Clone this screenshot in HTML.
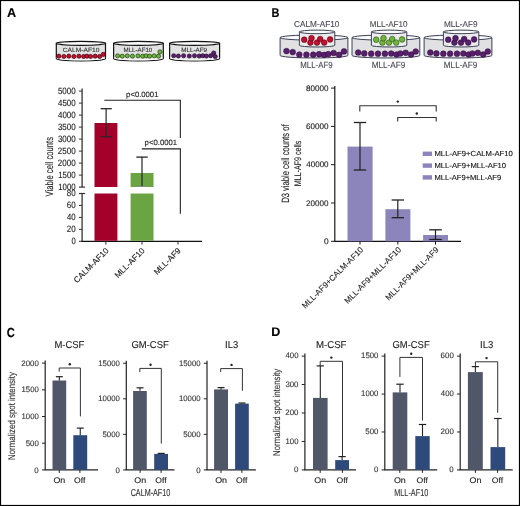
<!DOCTYPE html>
<html><head><meta charset="utf-8"><style>
html,body{margin:0;padding:0;background:#fff;}
svg{display:block;font-family:"Liberation Sans", sans-serif;text-rendering:geometricPrecision;will-change:transform;}
</style></head><body>
<svg width="520" height="506" viewBox="0 0 520 506">
<rect x="0.5" y="0.5" width="519" height="505" fill="#fff" stroke="#000" stroke-width="1.2"/>
<text x="6.88" y="16.90" font-size="12.90" text-anchor="start" fill="#000" font-weight="bold" textLength="9.16" lengthAdjust="spacingAndGlyphs"  stroke="#000" stroke-width="0.12">A</text>
<text x="271.59" y="16.80" font-size="12.75" text-anchor="start" fill="#000" font-weight="bold" textLength="7.93" lengthAdjust="spacingAndGlyphs"  stroke="#000" stroke-width="0.12">B</text>
<text x="6.85" y="336.57" font-size="13.10" text-anchor="start" fill="#000" font-weight="bold" textLength="8.05" lengthAdjust="spacingAndGlyphs"  stroke="#000" stroke-width="0.12">C</text>
<text x="271.39" y="336.30" font-size="12.46" text-anchor="start" fill="#000" font-weight="bold" textLength="9.04" lengthAdjust="spacingAndGlyphs"  stroke="#000" stroke-width="0.12">D</text>
<path d="M56.3,43.35 L56.3,58.6 A24.6,2.3 0 0 0 105.5,58.6 L105.5,43.35 Z" fill="#e2e2e2" stroke="#111" stroke-width="1.2"/>
<path d="M57.099999999999994,57.4 A23.8,2.3 0 0 0 104.7,57.4" fill="none" stroke="#f6f6f6" stroke-width="1.4"/>
<ellipse cx="80.9" cy="43.35" rx="24.6" ry="2.05" fill="#fbfbfb" stroke="#111" stroke-width="1.2"/>
<text x="62.77" y="51.64" font-size="6.06" text-anchor="start" fill="#333" textLength="36.68" lengthAdjust="spacingAndGlyphs"  stroke="#333" stroke-width="0.12">CALM-AF10</text>
<circle cx="58.90" cy="56.15" r="2.05" fill="#c8102e" stroke="#3a0010" stroke-width="0.7"/>
<circle cx="63.90" cy="56.45" r="2.05" fill="#c8102e" stroke="#3a0010" stroke-width="0.7"/>
<circle cx="68.80" cy="56.15" r="2.05" fill="#c8102e" stroke="#3a0010" stroke-width="0.7"/>
<circle cx="73.90" cy="56.45" r="2.05" fill="#c8102e" stroke="#3a0010" stroke-width="0.7"/>
<circle cx="78.90" cy="56.15" r="2.05" fill="#c8102e" stroke="#3a0010" stroke-width="0.7"/>
<circle cx="83.60" cy="56.45" r="2.05" fill="#c8102e" stroke="#3a0010" stroke-width="0.7"/>
<circle cx="86.90" cy="56.15" r="2.05" fill="#c8102e" stroke="#3a0010" stroke-width="0.7"/>
<circle cx="90.60" cy="56.45" r="2.05" fill="#c8102e" stroke="#3a0010" stroke-width="0.7"/>
<circle cx="95.20" cy="56.15" r="2.05" fill="#c8102e" stroke="#3a0010" stroke-width="0.7"/>
<circle cx="99.60" cy="56.45" r="2.05" fill="#c8102e" stroke="#3a0010" stroke-width="0.7"/>
<circle cx="103.30" cy="54.40" r="2.1" fill="#c8102e" stroke="#3a0010" stroke-width="0.7"/>
<path d="M113.6,43.35 L113.6,58.6 A24.85000000000001,2.3 0 0 0 163.3,58.6 L163.3,43.35 Z" fill="#e2e2e2" stroke="#111" stroke-width="1.2"/>
<path d="M114.39999999999999,57.4 A24.050000000000008,2.3 0 0 0 162.5,57.4" fill="none" stroke="#f6f6f6" stroke-width="1.4"/>
<ellipse cx="138.45" cy="43.35" rx="24.85000000000001" ry="2.05" fill="#fbfbfb" stroke="#111" stroke-width="1.2"/>
<text x="123.51" y="51.64" font-size="6.06" text-anchor="start" fill="#333" textLength="28.80" lengthAdjust="spacingAndGlyphs"  stroke="#333" stroke-width="0.12">MLL-AF10</text>
<circle cx="117.60" cy="55.85" r="2.05" fill="#6cb83e" stroke="#1f3a0a" stroke-width="0.7"/>
<circle cx="122.30" cy="56.15" r="2.05" fill="#6cb83e" stroke="#1f3a0a" stroke-width="0.7"/>
<circle cx="127.30" cy="55.85" r="2.05" fill="#6cb83e" stroke="#1f3a0a" stroke-width="0.7"/>
<circle cx="132.50" cy="56.15" r="2.05" fill="#6cb83e" stroke="#1f3a0a" stroke-width="0.7"/>
<circle cx="138.00" cy="55.85" r="2.05" fill="#6cb83e" stroke="#1f3a0a" stroke-width="0.7"/>
<circle cx="142.60" cy="56.15" r="2.05" fill="#6cb83e" stroke="#1f3a0a" stroke-width="0.7"/>
<circle cx="146.10" cy="55.85" r="2.05" fill="#6cb83e" stroke="#1f3a0a" stroke-width="0.7"/>
<circle cx="149.60" cy="56.15" r="2.05" fill="#6cb83e" stroke="#1f3a0a" stroke-width="0.7"/>
<circle cx="154.20" cy="55.85" r="2.05" fill="#6cb83e" stroke="#1f3a0a" stroke-width="0.7"/>
<circle cx="158.50" cy="56.15" r="2.05" fill="#6cb83e" stroke="#1f3a0a" stroke-width="0.7"/>
<circle cx="159.90" cy="51.90" r="2.1" fill="#6cb83e" stroke="#1f3a0a" stroke-width="0.7"/>
<path d="M169.6,43.35 L169.6,58.6 A25.0,2.3 0 0 0 219.6,58.6 L219.6,43.35 Z" fill="#e2e2e2" stroke="#111" stroke-width="1.2"/>
<path d="M170.4,57.4 A24.2,2.3 0 0 0 218.79999999999998,57.4" fill="none" stroke="#f6f6f6" stroke-width="1.4"/>
<ellipse cx="194.6" cy="43.35" rx="25.0" ry="2.05" fill="#fbfbfb" stroke="#111" stroke-width="1.2"/>
<text x="181.20" y="51.64" font-size="6.06" text-anchor="start" fill="#333" textLength="25.90" lengthAdjust="spacingAndGlyphs"  stroke="#333" stroke-width="0.12">MLL-AF9</text>
<circle cx="173.70" cy="55.75" r="2.05" fill="#5e1f72" stroke="#1e0426" stroke-width="0.7"/>
<circle cx="178.40" cy="56.05" r="2.05" fill="#5e1f72" stroke="#1e0426" stroke-width="0.7"/>
<circle cx="183.60" cy="55.75" r="2.05" fill="#5e1f72" stroke="#1e0426" stroke-width="0.7"/>
<circle cx="189.30" cy="56.05" r="2.05" fill="#5e1f72" stroke="#1e0426" stroke-width="0.7"/>
<circle cx="194.50" cy="55.75" r="2.05" fill="#5e1f72" stroke="#1e0426" stroke-width="0.7"/>
<circle cx="199.20" cy="56.05" r="2.05" fill="#5e1f72" stroke="#1e0426" stroke-width="0.7"/>
<circle cx="202.80" cy="55.75" r="2.05" fill="#5e1f72" stroke="#1e0426" stroke-width="0.7"/>
<circle cx="206.40" cy="56.05" r="2.05" fill="#5e1f72" stroke="#1e0426" stroke-width="0.7"/>
<circle cx="210.60" cy="55.75" r="2.05" fill="#5e1f72" stroke="#1e0426" stroke-width="0.7"/>
<circle cx="213.70" cy="53.00" r="2.1" fill="#5e1f72" stroke="#1e0426" stroke-width="0.7"/>
<circle cx="215.20" cy="56.60" r="2.1" fill="#5e1f72" stroke="#1e0426" stroke-width="0.7"/>
<line x1="82.10" y1="88.50" x2="82.10" y2="187.10" stroke="#333" stroke-width="1.3" />
<line x1="82.10" y1="193.50" x2="82.10" y2="241.30" stroke="#333" stroke-width="1.3" />
<line x1="78.90" y1="187.10" x2="85.10" y2="187.10" stroke="#333" stroke-width="1.2" />
<line x1="78.90" y1="193.50" x2="85.10" y2="193.50" stroke="#333" stroke-width="1.2" />
<line x1="78.90" y1="175.10" x2="82.10" y2="175.10" stroke="#333" stroke-width="1.0" />
<text x="58.21" y="177.71" font-size="9.15" text-anchor="start" fill="#222" textLength="17.46" lengthAdjust="spacingAndGlyphs"  stroke="#222" stroke-width="0.12">1500</text>
<line x1="78.90" y1="163.10" x2="82.10" y2="163.10" stroke="#333" stroke-width="1.0" />
<text x="57.80" y="165.71" font-size="9.15" text-anchor="start" fill="#222" textLength="17.88" lengthAdjust="spacingAndGlyphs"  stroke="#222" stroke-width="0.12">2000</text>
<line x1="78.90" y1="151.10" x2="82.10" y2="151.10" stroke="#333" stroke-width="1.0" />
<text x="57.80" y="153.71" font-size="9.15" text-anchor="start" fill="#222" textLength="17.88" lengthAdjust="spacingAndGlyphs"  stroke="#222" stroke-width="0.12">2500</text>
<line x1="78.90" y1="139.10" x2="82.10" y2="139.10" stroke="#333" stroke-width="1.0" />
<text x="57.88" y="141.71" font-size="9.15" text-anchor="start" fill="#222" textLength="17.80" lengthAdjust="spacingAndGlyphs"  stroke="#222" stroke-width="0.12">3000</text>
<line x1="78.90" y1="127.10" x2="82.10" y2="127.10" stroke="#333" stroke-width="1.0" />
<text x="57.88" y="129.71" font-size="9.15" text-anchor="start" fill="#222" textLength="17.80" lengthAdjust="spacingAndGlyphs"  stroke="#222" stroke-width="0.12">3500</text>
<line x1="78.90" y1="115.10" x2="82.10" y2="115.10" stroke="#333" stroke-width="1.0" />
<text x="58.04" y="117.71" font-size="9.15" text-anchor="start" fill="#222" textLength="17.63" lengthAdjust="spacingAndGlyphs"  stroke="#222" stroke-width="0.12">4000</text>
<line x1="78.90" y1="103.10" x2="82.10" y2="103.10" stroke="#333" stroke-width="1.0" />
<text x="58.04" y="105.71" font-size="9.15" text-anchor="start" fill="#222" textLength="17.63" lengthAdjust="spacingAndGlyphs"  stroke="#222" stroke-width="0.12">4500</text>
<line x1="78.90" y1="91.10" x2="82.10" y2="91.10" stroke="#333" stroke-width="1.0" />
<text x="57.88" y="93.71" font-size="9.15" text-anchor="start" fill="#222" textLength="17.80" lengthAdjust="spacingAndGlyphs"  stroke="#222" stroke-width="0.12">5000</text>
<text x="58.21" y="189.71" font-size="9.15" text-anchor="start" fill="#222" textLength="17.46" lengthAdjust="spacingAndGlyphs"  stroke="#222" stroke-width="0.12">1000</text>
<line x1="78.90" y1="241.30" x2="82.10" y2="241.30" stroke="#333" stroke-width="1.0" />
<text x="71.39" y="243.91" font-size="9.15" text-anchor="start" fill="#222" textLength="4.29" lengthAdjust="spacingAndGlyphs"  stroke="#222" stroke-width="0.12">0</text>
<line x1="78.90" y1="229.35" x2="82.10" y2="229.35" stroke="#333" stroke-width="1.0" />
<text x="66.80" y="231.96" font-size="9.15" text-anchor="start" fill="#222" textLength="8.90" lengthAdjust="spacingAndGlyphs"  stroke="#222" stroke-width="0.12">20</text>
<line x1="78.90" y1="217.40" x2="82.10" y2="217.40" stroke="#333" stroke-width="1.0" />
<text x="67.04" y="220.01" font-size="9.15" text-anchor="start" fill="#222" textLength="8.65" lengthAdjust="spacingAndGlyphs"  stroke="#222" stroke-width="0.12">40</text>
<line x1="78.90" y1="205.45" x2="82.10" y2="205.45" stroke="#333" stroke-width="1.0" />
<text x="66.80" y="208.06" font-size="9.15" text-anchor="start" fill="#222" textLength="8.90" lengthAdjust="spacingAndGlyphs"  stroke="#222" stroke-width="0.12">60</text>
<text x="66.84" y="196.11" font-size="9.15" text-anchor="start" fill="#222" textLength="8.86" lengthAdjust="spacingAndGlyphs"  stroke="#222" stroke-width="0.12">80</text>
<text x="52.90" y="196.44" font-size="10.76" text-anchor="start" fill="#222" textLength="59.50" lengthAdjust="spacingAndGlyphs" transform="rotate(-90 52.90 196.44)"  stroke="#222" stroke-width="0.12">Viable cell counts</text>
<line x1="81.50" y1="241.40" x2="202.00" y2="241.40" stroke="#111" stroke-width="1.4" />
<line x1="105.90" y1="241.40" x2="105.90" y2="244.60" stroke="#333" stroke-width="1.0" />
<line x1="142.00" y1="241.40" x2="142.00" y2="244.60" stroke="#333" stroke-width="1.0" />
<line x1="178.00" y1="241.40" x2="178.00" y2="244.60" stroke="#333" stroke-width="1.0" />
<rect x="94.50" y="123.00" width="22.90" height="64.00" fill="#a3002a"/>
<rect x="94.50" y="193.50" width="22.90" height="47.30" fill="#a3002a"/>
<rect x="130.60" y="173.00" width="22.90" height="14.00" fill="#6ba543"/>
<rect x="130.60" y="193.50" width="22.90" height="47.30" fill="#6ba543"/>
<line x1="106.10" y1="108.70" x2="106.10" y2="136.70" stroke="#262626" stroke-width="1.2" />
<line x1="100.60" y1="108.70" x2="111.80" y2="108.70" stroke="#262626" stroke-width="1.3" />
<line x1="100.60" y1="136.70" x2="111.80" y2="136.70" stroke="#262626" stroke-width="1.3" />
<line x1="142.00" y1="157.10" x2="142.00" y2="186.30" stroke="#262626" stroke-width="1.2" />
<line x1="136.30" y1="157.10" x2="147.70" y2="157.10" stroke="#262626" stroke-width="1.3" />
<line x1="136.30" y1="186.40" x2="147.70" y2="186.40" stroke="#8a8a8a" stroke-width="0.9" />
<line x1="104.30" y1="100.30" x2="180.90" y2="100.30" stroke="#222" stroke-width="1.1" />
<line x1="180.35" y1="100.30" x2="180.35" y2="138.10" stroke="#222" stroke-width="1.1" />
<text x="126.10" y="96.60" font-size="7.71" text-anchor="start" fill="#222" textLength="32.34" lengthAdjust="spacingAndGlyphs"  stroke="#222" stroke-width="0.12">p&lt;0.0001</text>
<line x1="141.80" y1="148.90" x2="180.90" y2="148.90" stroke="#222" stroke-width="1.1" />
<line x1="180.35" y1="148.90" x2="180.35" y2="213.80" stroke="#222" stroke-width="1.1" />
<text x="144.60" y="145.40" font-size="7.71" text-anchor="start" fill="#222" textLength="32.54" lengthAdjust="spacingAndGlyphs"  stroke="#222" stroke-width="0.12">p&lt;0.0001</text>
<text x="109.30" y="251.20" font-size="8.30" text-anchor="end" fill="#222" transform="rotate(-45 109.30 251.20)"  stroke="#222" stroke-width="0.12">CALM-AF10</text>
<text x="145.30" y="251.20" font-size="8.30" text-anchor="end" fill="#222" transform="rotate(-45 145.30 251.20)"  stroke="#222" stroke-width="0.12">MLL-AF10</text>
<text x="181.30" y="251.20" font-size="8.30" text-anchor="end" fill="#222" transform="rotate(-45 181.30 251.20)"  stroke="#222" stroke-width="0.12">MLL-AF9</text>
<path d="M280.1,37.6 L280.1,55.4 A33.89999999999998,2.6 0 0 0 347.9,55.4 L347.9,37.6 Z" fill="#e1e1e4" stroke="#3b4056" stroke-width="1.0"/>
<ellipse cx="314.0" cy="37.6" rx="33.89999999999998" ry="2.6" fill="#fbfbfb" stroke="#3b4056" stroke-width="1.0"/>
<circle cx="286.50" cy="51.10" r="2.85" fill="#5a1e6e" stroke="#2a0d33" stroke-width="0.55"/>
<circle cx="292.70" cy="52.10" r="2.85" fill="#5a1e6e" stroke="#2a0d33" stroke-width="0.55"/>
<circle cx="299.30" cy="54.60" r="2.85" fill="#5a1e6e" stroke="#2a0d33" stroke-width="0.55"/>
<circle cx="306.40" cy="54.70" r="2.85" fill="#5a1e6e" stroke="#2a0d33" stroke-width="0.55"/>
<circle cx="313.20" cy="54.70" r="2.85" fill="#5a1e6e" stroke="#2a0d33" stroke-width="0.55"/>
<circle cx="319.10" cy="54.20" r="2.85" fill="#5a1e6e" stroke="#2a0d33" stroke-width="0.55"/>
<circle cx="324.20" cy="54.90" r="2.85" fill="#5a1e6e" stroke="#2a0d33" stroke-width="0.55"/>
<circle cx="328.30" cy="54.10" r="2.85" fill="#5a1e6e" stroke="#2a0d33" stroke-width="0.55"/>
<circle cx="333.70" cy="53.00" r="2.85" fill="#5a1e6e" stroke="#2a0d33" stroke-width="0.55"/>
<circle cx="339.20" cy="54.80" r="2.85" fill="#5a1e6e" stroke="#2a0d33" stroke-width="0.55"/>
<circle cx="344.00" cy="51.40" r="2.85" fill="#5a1e6e" stroke="#2a0d33" stroke-width="0.55"/>
<path d="M299.4,31.9 L299.4,45.3 A17.700000000000017,1.7 0 0 0 334.8,45.3 L334.8,31.9 Z" fill="#ececee" stroke="#3b4056" stroke-width="1.0"/>
<ellipse cx="317.1" cy="31.9" rx="17.700000000000017" ry="1.8" fill="#fdfdfd" stroke="#3b4056" stroke-width="1.0"/>
<circle cx="304.20" cy="39.70" r="2.85" fill="#c4102f" stroke="#4a0414" stroke-width="0.55"/>
<circle cx="310.40" cy="42.60" r="2.85" fill="#c4102f" stroke="#4a0414" stroke-width="0.55"/>
<circle cx="311.50" cy="38.20" r="2.85" fill="#c4102f" stroke="#4a0414" stroke-width="0.55"/>
<circle cx="317.00" cy="42.60" r="2.85" fill="#c4102f" stroke="#4a0414" stroke-width="0.55"/>
<circle cx="320.20" cy="39.00" r="2.85" fill="#c4102f" stroke="#4a0414" stroke-width="0.55"/>
<circle cx="324.20" cy="42.60" r="2.85" fill="#c4102f" stroke="#4a0414" stroke-width="0.55"/>
<circle cx="330.10" cy="39.40" r="2.85" fill="#c4102f" stroke="#4a0414" stroke-width="0.55"/>
<text x="294.04" y="26.51" font-size="8.59" text-anchor="start" fill="#4a4a55" textLength="45.31" lengthAdjust="spacingAndGlyphs"  stroke="#4a4a55" stroke-width="0.12">CALM-AF10</text>
<text x="300.32" y="67.91" font-size="9.01" text-anchor="start" fill="#4a4a55" textLength="32.35" lengthAdjust="spacingAndGlyphs"  stroke="#4a4a55" stroke-width="0.12">MLL-AF9</text>
<path d="M352.0,37.6 L352.0,55.4 A33.900000000000006,2.6 0 0 0 419.8,55.4 L419.8,37.6 Z" fill="#e1e1e4" stroke="#3b4056" stroke-width="1.0"/>
<ellipse cx="385.9" cy="37.6" rx="33.900000000000006" ry="2.6" fill="#fbfbfb" stroke="#3b4056" stroke-width="1.0"/>
<circle cx="358.20" cy="52.50" r="2.85" fill="#5a1e6e" stroke="#2a0d33" stroke-width="0.55"/>
<circle cx="364.30" cy="53.40" r="2.85" fill="#5a1e6e" stroke="#2a0d33" stroke-width="0.55"/>
<circle cx="371.20" cy="53.70" r="2.85" fill="#5a1e6e" stroke="#2a0d33" stroke-width="0.55"/>
<circle cx="378.00" cy="53.70" r="2.85" fill="#5a1e6e" stroke="#2a0d33" stroke-width="0.55"/>
<circle cx="384.90" cy="53.70" r="2.85" fill="#5a1e6e" stroke="#2a0d33" stroke-width="0.55"/>
<circle cx="391.20" cy="53.50" r="2.85" fill="#5a1e6e" stroke="#2a0d33" stroke-width="0.55"/>
<circle cx="396.50" cy="54.50" r="2.85" fill="#5a1e6e" stroke="#2a0d33" stroke-width="0.55"/>
<circle cx="400.30" cy="53.50" r="2.85" fill="#5a1e6e" stroke="#2a0d33" stroke-width="0.55"/>
<circle cx="405.70" cy="52.80" r="2.85" fill="#5a1e6e" stroke="#2a0d33" stroke-width="0.55"/>
<circle cx="411.10" cy="54.50" r="2.85" fill="#5a1e6e" stroke="#2a0d33" stroke-width="0.55"/>
<circle cx="415.70" cy="51.50" r="2.85" fill="#5a1e6e" stroke="#2a0d33" stroke-width="0.55"/>
<path d="M371.4,31.9 L371.4,45.3 A17.700000000000017,1.7 0 0 0 406.8,45.3 L406.8,31.9 Z" fill="#ececee" stroke="#3b4056" stroke-width="1.0"/>
<ellipse cx="389.1" cy="31.9" rx="17.700000000000017" ry="1.8" fill="#fdfdfd" stroke="#3b4056" stroke-width="1.0"/>
<circle cx="376.20" cy="39.70" r="2.85" fill="#6fb43f" stroke="#25450c" stroke-width="0.55"/>
<circle cx="382.40" cy="42.60" r="2.85" fill="#6fb43f" stroke="#25450c" stroke-width="0.55"/>
<circle cx="383.50" cy="38.20" r="2.85" fill="#6fb43f" stroke="#25450c" stroke-width="0.55"/>
<circle cx="389.00" cy="42.60" r="2.85" fill="#6fb43f" stroke="#25450c" stroke-width="0.55"/>
<circle cx="392.20" cy="39.00" r="2.85" fill="#6fb43f" stroke="#25450c" stroke-width="0.55"/>
<circle cx="396.20" cy="42.60" r="2.85" fill="#6fb43f" stroke="#25450c" stroke-width="0.55"/>
<circle cx="402.10" cy="39.40" r="2.85" fill="#6fb43f" stroke="#25450c" stroke-width="0.55"/>
<text x="369.75" y="26.52" font-size="8.45" text-anchor="start" fill="#4a4a55" textLength="37.82" lengthAdjust="spacingAndGlyphs"  stroke="#4a4a55" stroke-width="0.12">MLL-AF10</text>
<text x="371.64" y="67.91" font-size="9.01" text-anchor="start" fill="#4a4a55" textLength="33.75" lengthAdjust="spacingAndGlyphs"  stroke="#4a4a55" stroke-width="0.12">MLL-AF9</text>
<path d="M424.1,37.6 L424.1,55.4 A33.89999999999998,2.6 0 0 0 491.9,55.4 L491.9,37.6 Z" fill="#e1e1e4" stroke="#3b4056" stroke-width="1.0"/>
<ellipse cx="458.0" cy="37.6" rx="33.89999999999998" ry="2.6" fill="#fbfbfb" stroke="#3b4056" stroke-width="1.0"/>
<circle cx="430.30" cy="52.50" r="2.85" fill="#5a1e6e" stroke="#2a0d33" stroke-width="0.55"/>
<circle cx="436.40" cy="53.40" r="2.85" fill="#5a1e6e" stroke="#2a0d33" stroke-width="0.55"/>
<circle cx="443.30" cy="53.70" r="2.85" fill="#5a1e6e" stroke="#2a0d33" stroke-width="0.55"/>
<circle cx="450.10" cy="53.70" r="2.85" fill="#5a1e6e" stroke="#2a0d33" stroke-width="0.55"/>
<circle cx="457.00" cy="53.70" r="2.85" fill="#5a1e6e" stroke="#2a0d33" stroke-width="0.55"/>
<circle cx="463.30" cy="53.50" r="2.85" fill="#5a1e6e" stroke="#2a0d33" stroke-width="0.55"/>
<circle cx="468.60" cy="54.50" r="2.85" fill="#5a1e6e" stroke="#2a0d33" stroke-width="0.55"/>
<circle cx="472.40" cy="53.50" r="2.85" fill="#5a1e6e" stroke="#2a0d33" stroke-width="0.55"/>
<circle cx="477.80" cy="52.80" r="2.85" fill="#5a1e6e" stroke="#2a0d33" stroke-width="0.55"/>
<circle cx="483.20" cy="54.50" r="2.85" fill="#5a1e6e" stroke="#2a0d33" stroke-width="0.55"/>
<circle cx="487.80" cy="51.50" r="2.85" fill="#5a1e6e" stroke="#2a0d33" stroke-width="0.55"/>
<path d="M443.4,31.9 L443.4,45.3 A17.700000000000017,1.7 0 0 0 478.8,45.3 L478.8,31.9 Z" fill="#ececee" stroke="#3b4056" stroke-width="1.0"/>
<ellipse cx="461.1" cy="31.9" rx="17.700000000000017" ry="1.8" fill="#fdfdfd" stroke="#3b4056" stroke-width="1.0"/>
<circle cx="448.20" cy="39.70" r="2.85" fill="#5a1e6e" stroke="#2a0d33" stroke-width="0.55"/>
<circle cx="454.40" cy="42.60" r="2.85" fill="#5a1e6e" stroke="#2a0d33" stroke-width="0.55"/>
<circle cx="455.50" cy="38.20" r="2.85" fill="#5a1e6e" stroke="#2a0d33" stroke-width="0.55"/>
<circle cx="461.00" cy="42.60" r="2.85" fill="#5a1e6e" stroke="#2a0d33" stroke-width="0.55"/>
<circle cx="464.20" cy="39.00" r="2.85" fill="#5a1e6e" stroke="#2a0d33" stroke-width="0.55"/>
<circle cx="468.20" cy="42.60" r="2.85" fill="#5a1e6e" stroke="#2a0d33" stroke-width="0.55"/>
<circle cx="474.10" cy="39.40" r="2.85" fill="#5a1e6e" stroke="#2a0d33" stroke-width="0.55"/>
<text x="443.95" y="26.52" font-size="8.45" text-anchor="start" fill="#4a4a55" textLength="33.54" lengthAdjust="spacingAndGlyphs"  stroke="#4a4a55" stroke-width="0.12">MLL-AF9</text>
<text x="443.85" y="67.91" font-size="9.01" text-anchor="start" fill="#4a4a55" textLength="33.44" lengthAdjust="spacingAndGlyphs"  stroke="#4a4a55" stroke-width="0.12">MLL-AF9</text>
<line x1="334.80" y1="86.10" x2="334.80" y2="241.30" stroke="#1a1a1a" stroke-width="1.2" />
<line x1="331.00" y1="241.30" x2="334.80" y2="241.30" stroke="#1a1a1a" stroke-width="1.0" />
<text x="323.90" y="243.92" font-size="8.03" text-anchor="start" fill="#222" textLength="4.70" lengthAdjust="spacingAndGlyphs"  stroke="#222" stroke-width="0.12">0</text>
<line x1="331.00" y1="203.00" x2="334.80" y2="203.00" stroke="#1a1a1a" stroke-width="1.0" />
<text x="305.99" y="205.62" font-size="8.03" text-anchor="start" fill="#222" textLength="22.60" lengthAdjust="spacingAndGlyphs"  stroke="#222" stroke-width="0.12">20000</text>
<line x1="331.00" y1="164.70" x2="334.80" y2="164.70" stroke="#1a1a1a" stroke-width="1.0" />
<text x="306.24" y="167.32" font-size="8.03" text-anchor="start" fill="#222" textLength="22.35" lengthAdjust="spacingAndGlyphs"  stroke="#222" stroke-width="0.12">40000</text>
<line x1="331.00" y1="126.40" x2="334.80" y2="126.40" stroke="#1a1a1a" stroke-width="1.0" />
<text x="305.99" y="129.02" font-size="8.03" text-anchor="start" fill="#222" textLength="22.60" lengthAdjust="spacingAndGlyphs"  stroke="#222" stroke-width="0.12">60000</text>
<line x1="331.00" y1="88.10" x2="334.80" y2="88.10" stroke="#1a1a1a" stroke-width="1.0" />
<text x="306.03" y="90.72" font-size="8.03" text-anchor="start" fill="#222" textLength="22.56" lengthAdjust="spacingAndGlyphs"  stroke="#222" stroke-width="0.12">80000</text>
<line x1="334.20" y1="241.30" x2="461.00" y2="241.30" stroke="#111" stroke-width="1.3" />
<rect x="347.50" y="146.60" width="25.10" height="94.70" fill="#8b85bc"/>
<rect x="385.40" y="209.20" width="25.00" height="32.10" fill="#8b85bc"/>
<rect x="423.10" y="235.00" width="24.90" height="6.30" fill="#8b85bc"/>
<line x1="360.00" y1="122.50" x2="360.00" y2="170.00" stroke="#222" stroke-width="1.2" />
<line x1="353.80" y1="122.50" x2="366.20" y2="122.50" stroke="#222" stroke-width="1.3" />
<line x1="353.80" y1="170.00" x2="366.20" y2="170.00" stroke="#222" stroke-width="1.3" />
<line x1="397.80" y1="200.00" x2="397.80" y2="217.70" stroke="#222" stroke-width="1.2" />
<line x1="391.60" y1="200.00" x2="404.00" y2="200.00" stroke="#222" stroke-width="1.3" />
<line x1="391.60" y1="217.70" x2="404.00" y2="217.70" stroke="#222" stroke-width="1.3" />
<line x1="435.50" y1="229.80" x2="435.50" y2="239.50" stroke="#222" stroke-width="1.2" />
<line x1="429.20" y1="229.80" x2="441.80" y2="229.80" stroke="#222" stroke-width="1.3" />
<line x1="429.20" y1="239.50" x2="441.80" y2="239.50" stroke="#222" stroke-width="1.3" />
<line x1="360.00" y1="241.30" x2="360.00" y2="244.50" stroke="#111" stroke-width="1.0" />
<line x1="397.80" y1="241.30" x2="397.80" y2="244.50" stroke="#111" stroke-width="1.0" />
<line x1="435.50" y1="241.30" x2="435.50" y2="244.50" stroke="#111" stroke-width="1.0" />
<polyline points="359.8,111.4 359.8,105.7 436.2,105.7 436.2,111.4" fill="none" stroke="#333" stroke-width="1.1"/>
<polyline points="397.7,121.5 397.7,117.5 436.2,117.5 436.2,121.5" fill="none" stroke="#333" stroke-width="1.1"/>
<circle cx="397.80" cy="101.60" r="1.2" fill="#222" stroke="none" stroke-width="0"/>
<circle cx="416.80" cy="113.50" r="1.2" fill="#222" stroke="none" stroke-width="0"/>
<rect x="422.70" y="151.60" width="9.30" height="4.40" fill="#8b85bc"/>
<text x="434.48" y="155.93" font-size="7.32" text-anchor="start" fill="#111" textLength="78.41" lengthAdjust="spacingAndGlyphs"  stroke="#111" stroke-width="0.12">MLL-AF9+CALM-AF10</text>
<rect x="422.70" y="163.40" width="9.30" height="4.40" fill="#8b85bc"/>
<text x="434.49" y="167.73" font-size="7.32" text-anchor="start" fill="#111" textLength="71.58" lengthAdjust="spacingAndGlyphs"  stroke="#111" stroke-width="0.12">MLL-AF9+MLL-AF10</text>
<rect x="422.70" y="175.20" width="9.30" height="4.40" fill="#8b85bc"/>
<text x="434.49" y="179.53" font-size="7.32" text-anchor="start" fill="#111" textLength="66.74" lengthAdjust="spacingAndGlyphs"  stroke="#111" stroke-width="0.12">MLL-AF9+MLL-AF9</text>
<text x="289.00" y="202.81" font-size="10.62" text-anchor="start" fill="#222" textLength="78.40" lengthAdjust="spacingAndGlyphs" transform="rotate(-90 289.00 202.81)"  stroke="#222" stroke-width="0.12">D3 viable cell counts of</text>
<text x="300.60" y="186.17" font-size="9.52" text-anchor="start" fill="#222" textLength="45.42" lengthAdjust="spacingAndGlyphs" transform="rotate(-90 300.60 186.17)"  stroke="#222" stroke-width="0.12">MLL-AF9 cells</text>
<text x="363.80" y="250.40" font-size="8.15" text-anchor="end" fill="#222" transform="rotate(-45 363.80 250.40)"  stroke="#222" stroke-width="0.12">MLL-AF9+CALM-AF10</text>
<text x="401.60" y="250.40" font-size="8.15" text-anchor="end" fill="#222" transform="rotate(-45 401.60 250.40)"  stroke="#222" stroke-width="0.12">MLL-AF9+MLL-AF10</text>
<text x="439.30" y="250.40" font-size="8.15" text-anchor="end" fill="#222" transform="rotate(-45 439.30 250.40)"  stroke="#222" stroke-width="0.12">MLL-AF9+MLL-AF9</text>
<line x1="45.20" y1="360.50" x2="45.20" y2="469.90" stroke="#222" stroke-width="1.2" />
<line x1="42.00" y1="469.90" x2="45.20" y2="469.90" stroke="#222" stroke-width="1.0" />
<text x="34.38" y="472.52" font-size="7.89" text-anchor="start" fill="#333" textLength="4.40" lengthAdjust="spacingAndGlyphs"  stroke="#333" stroke-width="0.12">0</text>
<line x1="42.00" y1="443.20" x2="45.20" y2="443.20" stroke="#222" stroke-width="1.0" />
<text x="25.69" y="445.82" font-size="7.89" text-anchor="start" fill="#333" textLength="13.12" lengthAdjust="spacingAndGlyphs"  stroke="#333" stroke-width="0.12">500</text>
<line x1="42.00" y1="416.50" x2="45.20" y2="416.50" stroke="#222" stroke-width="1.0" />
<text x="21.52" y="419.12" font-size="7.89" text-anchor="start" fill="#333" textLength="17.25" lengthAdjust="spacingAndGlyphs"  stroke="#333" stroke-width="0.12">1000</text>
<line x1="42.00" y1="389.80" x2="45.20" y2="389.80" stroke="#222" stroke-width="1.0" />
<text x="21.52" y="392.42" font-size="7.89" text-anchor="start" fill="#333" textLength="17.25" lengthAdjust="spacingAndGlyphs"  stroke="#333" stroke-width="0.12">1500</text>
<line x1="42.00" y1="363.10" x2="45.20" y2="363.10" stroke="#222" stroke-width="1.0" />
<text x="21.26" y="365.72" font-size="7.89" text-anchor="start" fill="#333" textLength="17.52" lengthAdjust="spacingAndGlyphs"  stroke="#333" stroke-width="0.12">2000</text>
<line x1="44.60" y1="469.90" x2="98.00" y2="469.90" stroke="#222" stroke-width="1.3" />
<rect x="52.50" y="380.50" width="13.70" height="89.40" fill="#505768"/>
<rect x="73.30" y="435.20" width="13.90" height="34.70" fill="#2e4a7b"/>
<line x1="59.35" y1="376.70" x2="59.35" y2="380.50" stroke="#222" stroke-width="1.1" />
<line x1="55.85" y1="376.70" x2="62.85" y2="376.70" stroke="#222" stroke-width="1.2" />
<line x1="80.25" y1="428.10" x2="80.25" y2="435.20" stroke="#222" stroke-width="1.1" />
<line x1="76.75" y1="428.10" x2="83.75" y2="428.10" stroke="#222" stroke-width="1.2" />
<polyline points="59.2,371.6 59.2,368.0 80.4,368.0 80.4,416.4" fill="none" stroke="#333" stroke-width="1.0"/>
<circle cx="69.80" cy="364.30" r="1.2" fill="#222" stroke="none" stroke-width="0"/>
<text x="54.44" y="347.60" font-size="10.00" text-anchor="start" fill="#222" textLength="29.95" lengthAdjust="spacingAndGlyphs"  stroke="#222" stroke-width="0.12">M-CSF</text>
<line x1="59.30" y1="469.90" x2="59.30" y2="472.90" stroke="#222" stroke-width="1.0" />
<text x="53.45" y="482.82" font-size="8.31" text-anchor="start" fill="#222" textLength="11.87" lengthAdjust="spacingAndGlyphs"  stroke="#222" stroke-width="0.12">On</text>
<line x1="79.90" y1="469.90" x2="79.90" y2="472.90" stroke="#222" stroke-width="1.0" />
<text x="74.01" y="482.82" font-size="8.03" text-anchor="start" fill="#222" textLength="11.35" lengthAdjust="spacingAndGlyphs"  stroke="#222" stroke-width="0.12">Off</text>
<line x1="126.30" y1="360.65" x2="126.30" y2="469.90" stroke="#222" stroke-width="1.2" />
<line x1="123.10" y1="469.90" x2="126.30" y2="469.90" stroke="#222" stroke-width="1.0" />
<text x="115.48" y="472.52" font-size="7.89" text-anchor="start" fill="#333" textLength="4.40" lengthAdjust="spacingAndGlyphs"  stroke="#333" stroke-width="0.12">0</text>
<line x1="123.10" y1="434.35" x2="126.30" y2="434.35" stroke="#222" stroke-width="1.0" />
<text x="102.44" y="436.97" font-size="7.89" text-anchor="start" fill="#333" textLength="17.44" lengthAdjust="spacingAndGlyphs"  stroke="#333" stroke-width="0.12">5000</text>
<line x1="123.10" y1="398.80" x2="126.30" y2="398.80" stroke="#222" stroke-width="1.0" />
<text x="98.27" y="401.42" font-size="7.89" text-anchor="start" fill="#333" textLength="21.61" lengthAdjust="spacingAndGlyphs"  stroke="#333" stroke-width="0.12">10000</text>
<line x1="123.10" y1="363.25" x2="126.30" y2="363.25" stroke="#222" stroke-width="1.0" />
<text x="98.27" y="365.87" font-size="7.89" text-anchor="start" fill="#333" textLength="21.61" lengthAdjust="spacingAndGlyphs"  stroke="#333" stroke-width="0.12">15000</text>
<line x1="125.70" y1="469.90" x2="174.50" y2="469.90" stroke="#222" stroke-width="1.3" />
<rect x="133.10" y="391.00" width="13.70" height="78.90" fill="#505768"/>
<rect x="154.20" y="453.90" width="13.80" height="16.00" fill="#2e4a7b"/>
<line x1="140.05" y1="387.80" x2="140.05" y2="390.80" stroke="#222" stroke-width="1.1" />
<line x1="136.55" y1="387.80" x2="143.55" y2="387.80" stroke="#222" stroke-width="1.2" />
<line x1="161.15" y1="453.40" x2="161.15" y2="453.90" stroke="#222" stroke-width="1.1" />
<line x1="157.65" y1="453.40" x2="164.65" y2="453.40" stroke="#222" stroke-width="1.2" />
<polyline points="139.8,372.1 139.8,368.4 161.3,368.4 161.3,443.6" fill="none" stroke="#333" stroke-width="1.0"/>
<circle cx="150.55" cy="364.70" r="1.2" fill="#222" stroke="none" stroke-width="0"/>
<text x="131.53" y="347.60" font-size="10.00" text-anchor="start" fill="#222" textLength="37.24" lengthAdjust="spacingAndGlyphs"  stroke="#222" stroke-width="0.12">GM-CSF</text>
<line x1="140.10" y1="469.90" x2="140.10" y2="472.90" stroke="#222" stroke-width="1.0" />
<text x="134.25" y="482.82" font-size="8.31" text-anchor="start" fill="#222" textLength="11.87" lengthAdjust="spacingAndGlyphs"  stroke="#222" stroke-width="0.12">On</text>
<line x1="161.10" y1="469.90" x2="161.10" y2="472.90" stroke="#222" stroke-width="1.0" />
<text x="155.21" y="482.82" font-size="8.03" text-anchor="start" fill="#222" textLength="11.35" lengthAdjust="spacingAndGlyphs"  stroke="#222" stroke-width="0.12">Off</text>
<line x1="207.00" y1="360.65" x2="207.00" y2="469.90" stroke="#222" stroke-width="1.2" />
<line x1="203.80" y1="469.90" x2="207.00" y2="469.90" stroke="#222" stroke-width="1.0" />
<text x="196.18" y="472.52" font-size="7.89" text-anchor="start" fill="#333" textLength="4.40" lengthAdjust="spacingAndGlyphs"  stroke="#333" stroke-width="0.12">0</text>
<line x1="203.80" y1="434.35" x2="207.00" y2="434.35" stroke="#222" stroke-width="1.0" />
<text x="183.14" y="436.97" font-size="7.89" text-anchor="start" fill="#333" textLength="17.44" lengthAdjust="spacingAndGlyphs"  stroke="#333" stroke-width="0.12">5000</text>
<line x1="203.80" y1="398.80" x2="207.00" y2="398.80" stroke="#222" stroke-width="1.0" />
<text x="178.97" y="401.42" font-size="7.89" text-anchor="start" fill="#333" textLength="21.61" lengthAdjust="spacingAndGlyphs"  stroke="#333" stroke-width="0.12">10000</text>
<line x1="203.80" y1="363.25" x2="207.00" y2="363.25" stroke="#222" stroke-width="1.0" />
<text x="178.97" y="365.87" font-size="7.89" text-anchor="start" fill="#333" textLength="21.61" lengthAdjust="spacingAndGlyphs"  stroke="#333" stroke-width="0.12">15000</text>
<line x1="206.40" y1="469.90" x2="255.90" y2="469.90" stroke="#222" stroke-width="1.3" />
<rect x="214.10" y="389.40" width="13.90" height="80.50" fill="#505768"/>
<rect x="235.10" y="403.60" width="13.70" height="66.30" fill="#2e4a7b"/>
<line x1="221.05" y1="387.60" x2="221.05" y2="389.40" stroke="#222" stroke-width="1.1" />
<line x1="217.55" y1="387.60" x2="224.55" y2="387.60" stroke="#222" stroke-width="1.2" />
<line x1="241.95" y1="403.00" x2="241.95" y2="403.60" stroke="#222" stroke-width="1.1" />
<line x1="238.45" y1="403.00" x2="245.45" y2="403.00" stroke="#222" stroke-width="1.2" />
<polyline points="220.7,372.1 220.7,368.6 242.4,368.6 242.4,390.8" fill="none" stroke="#333" stroke-width="1.0"/>
<circle cx="231.55" cy="364.90" r="1.2" fill="#222" stroke="none" stroke-width="0"/>
<text x="225.05" y="347.60" font-size="10.00" text-anchor="start" fill="#222" textLength="13.13" lengthAdjust="spacingAndGlyphs"  stroke="#222" stroke-width="0.12">IL3</text>
<line x1="221.00" y1="469.90" x2="221.00" y2="472.90" stroke="#222" stroke-width="1.0" />
<text x="215.15" y="482.82" font-size="8.31" text-anchor="start" fill="#222" textLength="11.87" lengthAdjust="spacingAndGlyphs"  stroke="#222" stroke-width="0.12">On</text>
<line x1="241.90" y1="469.90" x2="241.90" y2="472.90" stroke="#222" stroke-width="1.0" />
<text x="236.01" y="482.82" font-size="8.03" text-anchor="start" fill="#222" textLength="11.35" lengthAdjust="spacingAndGlyphs"  stroke="#222" stroke-width="0.12">Off</text>
<text x="130.64" y="496.30" font-size="10.14" text-anchor="start" fill="#333" textLength="39.62" lengthAdjust="spacingAndGlyphs"  stroke="#333" stroke-width="0.12">CALM-AF10</text>
<line x1="304.90" y1="353.50" x2="304.90" y2="469.90" stroke="#222" stroke-width="1.2" />
<line x1="301.70" y1="469.90" x2="304.90" y2="469.90" stroke="#222" stroke-width="1.0" />
<text x="294.08" y="472.02" font-size="7.89" text-anchor="start" fill="#333" textLength="4.40" lengthAdjust="spacingAndGlyphs"  stroke="#333" stroke-width="0.12">0</text>
<line x1="301.70" y1="441.45" x2="304.90" y2="441.45" stroke="#222" stroke-width="1.0" />
<text x="285.57" y="443.57" font-size="7.89" text-anchor="start" fill="#333" textLength="12.93" lengthAdjust="spacingAndGlyphs"  stroke="#333" stroke-width="0.12">100</text>
<line x1="301.70" y1="413.00" x2="304.90" y2="413.00" stroke="#222" stroke-width="1.0" />
<text x="285.30" y="415.12" font-size="7.89" text-anchor="start" fill="#333" textLength="13.20" lengthAdjust="spacingAndGlyphs"  stroke="#333" stroke-width="0.12">200</text>
<line x1="301.70" y1="384.55" x2="304.90" y2="384.55" stroke="#222" stroke-width="1.0" />
<text x="285.39" y="386.67" font-size="7.89" text-anchor="start" fill="#333" textLength="13.12" lengthAdjust="spacingAndGlyphs"  stroke="#333" stroke-width="0.12">300</text>
<line x1="301.70" y1="356.10" x2="304.90" y2="356.10" stroke="#222" stroke-width="1.0" />
<text x="285.54" y="358.22" font-size="7.89" text-anchor="start" fill="#333" textLength="12.95" lengthAdjust="spacingAndGlyphs"  stroke="#333" stroke-width="0.12">400</text>
<line x1="304.30" y1="469.90" x2="356.00" y2="469.90" stroke="#222" stroke-width="1.3" />
<rect x="313.00" y="397.90" width="14.60" height="72.00" fill="#505768"/>
<rect x="335.20" y="460.10" width="13.80" height="9.80" fill="#2e4a7b"/>
<line x1="320.30" y1="365.90" x2="320.30" y2="397.90" stroke="#222" stroke-width="1.1" />
<line x1="316.70" y1="365.90" x2="323.90" y2="365.90" stroke="#222" stroke-width="1.2" />
<line x1="342.10" y1="456.60" x2="342.10" y2="460.10" stroke="#222" stroke-width="1.1" />
<line x1="338.50" y1="456.60" x2="345.70" y2="456.60" stroke="#222" stroke-width="1.2" />
<polyline points="320.2,366.0 320.2,361.3 342.5,361.3 342.5,456.6" fill="none" stroke="#333" stroke-width="1.0"/>
<circle cx="331.35" cy="357.60" r="1.2" fill="#222" stroke="none" stroke-width="0"/>
<text x="316.03" y="347.60" font-size="10.00" text-anchor="start" fill="#222" textLength="30.47" lengthAdjust="spacingAndGlyphs"  stroke="#222" stroke-width="0.12">M-CSF</text>
<line x1="320.20" y1="469.90" x2="320.20" y2="472.90" stroke="#222" stroke-width="1.0" />
<text x="314.35" y="482.82" font-size="8.31" text-anchor="start" fill="#222" textLength="11.87" lengthAdjust="spacingAndGlyphs"  stroke="#222" stroke-width="0.12">On</text>
<line x1="342.40" y1="469.90" x2="342.40" y2="472.90" stroke="#222" stroke-width="1.0" />
<text x="336.51" y="482.82" font-size="8.03" text-anchor="start" fill="#222" textLength="11.35" lengthAdjust="spacingAndGlyphs"  stroke="#222" stroke-width="0.12">Off</text>
<line x1="384.80" y1="353.51" x2="384.80" y2="469.90" stroke="#222" stroke-width="1.2" />
<line x1="381.60" y1="469.90" x2="384.80" y2="469.90" stroke="#222" stroke-width="1.0" />
<text x="373.98" y="472.02" font-size="7.89" text-anchor="start" fill="#333" textLength="4.40" lengthAdjust="spacingAndGlyphs"  stroke="#333" stroke-width="0.12">0</text>
<line x1="381.60" y1="431.97" x2="384.80" y2="431.97" stroke="#222" stroke-width="1.0" />
<text x="365.29" y="434.09" font-size="7.89" text-anchor="start" fill="#333" textLength="13.12" lengthAdjust="spacingAndGlyphs"  stroke="#333" stroke-width="0.12">500</text>
<line x1="381.60" y1="394.04" x2="384.80" y2="394.04" stroke="#222" stroke-width="1.0" />
<text x="361.12" y="396.16" font-size="7.89" text-anchor="start" fill="#333" textLength="17.25" lengthAdjust="spacingAndGlyphs"  stroke="#333" stroke-width="0.12">1000</text>
<line x1="381.60" y1="356.11" x2="384.80" y2="356.11" stroke="#222" stroke-width="1.0" />
<text x="361.12" y="358.23" font-size="7.89" text-anchor="start" fill="#333" textLength="17.25" lengthAdjust="spacingAndGlyphs"  stroke="#333" stroke-width="0.12">1500</text>
<line x1="384.20" y1="469.90" x2="437.20" y2="469.90" stroke="#222" stroke-width="1.3" />
<rect x="392.70" y="392.40" width="14.60" height="77.50" fill="#505768"/>
<rect x="415.30" y="436.10" width="14.40" height="33.80" fill="#2e4a7b"/>
<line x1="400.00" y1="384.20" x2="400.00" y2="392.40" stroke="#222" stroke-width="1.1" />
<line x1="396.30" y1="384.20" x2="403.70" y2="384.20" stroke="#222" stroke-width="1.2" />
<line x1="422.50" y1="424.50" x2="422.50" y2="436.10" stroke="#222" stroke-width="1.1" />
<line x1="418.80" y1="424.50" x2="426.20" y2="424.50" stroke="#222" stroke-width="1.2" />
<polyline points="399.9,376.9 399.9,357.4 422.5,357.4 422.5,420.5" fill="none" stroke="#333" stroke-width="1.0"/>
<circle cx="411.20" cy="353.70" r="1.2" fill="#222" stroke="none" stroke-width="0"/>
<text x="392.43" y="347.60" font-size="10.00" text-anchor="start" fill="#222" textLength="37.24" lengthAdjust="spacingAndGlyphs"  stroke="#222" stroke-width="0.12">GM-CSF</text>
<line x1="399.80" y1="469.90" x2="399.80" y2="472.90" stroke="#222" stroke-width="1.0" />
<text x="393.95" y="482.82" font-size="8.31" text-anchor="start" fill="#222" textLength="11.87" lengthAdjust="spacingAndGlyphs"  stroke="#222" stroke-width="0.12">On</text>
<line x1="422.40" y1="469.90" x2="422.40" y2="472.90" stroke="#222" stroke-width="1.0" />
<text x="416.51" y="482.82" font-size="8.03" text-anchor="start" fill="#222" textLength="11.35" lengthAdjust="spacingAndGlyphs"  stroke="#222" stroke-width="0.12">Off</text>
<line x1="460.20" y1="353.51" x2="460.20" y2="469.90" stroke="#222" stroke-width="1.2" />
<line x1="457.00" y1="469.90" x2="460.20" y2="469.90" stroke="#222" stroke-width="1.0" />
<text x="449.38" y="472.02" font-size="7.89" text-anchor="start" fill="#333" textLength="4.40" lengthAdjust="spacingAndGlyphs"  stroke="#333" stroke-width="0.12">0</text>
<line x1="457.00" y1="431.97" x2="460.20" y2="431.97" stroke="#222" stroke-width="1.0" />
<text x="440.60" y="434.09" font-size="7.89" text-anchor="start" fill="#333" textLength="13.20" lengthAdjust="spacingAndGlyphs"  stroke="#333" stroke-width="0.12">200</text>
<line x1="457.00" y1="394.04" x2="460.20" y2="394.04" stroke="#222" stroke-width="1.0" />
<text x="440.84" y="396.16" font-size="7.89" text-anchor="start" fill="#333" textLength="12.95" lengthAdjust="spacingAndGlyphs"  stroke="#333" stroke-width="0.12">400</text>
<line x1="457.00" y1="356.11" x2="460.20" y2="356.11" stroke="#222" stroke-width="1.0" />
<text x="440.60" y="358.23" font-size="7.89" text-anchor="start" fill="#333" textLength="13.20" lengthAdjust="spacingAndGlyphs"  stroke="#333" stroke-width="0.12">600</text>
<line x1="459.60" y1="469.90" x2="512.70" y2="469.90" stroke="#222" stroke-width="1.3" />
<rect x="467.90" y="372.10" width="14.90" height="97.80" fill="#505768"/>
<rect x="490.50" y="447.10" width="14.70" height="22.80" fill="#2e4a7b"/>
<line x1="475.35" y1="366.60" x2="475.35" y2="372.10" stroke="#222" stroke-width="1.1" />
<line x1="471.75" y1="366.60" x2="478.95" y2="366.60" stroke="#222" stroke-width="1.2" />
<line x1="497.85" y1="418.50" x2="497.85" y2="447.10" stroke="#222" stroke-width="1.1" />
<line x1="494.15" y1="418.50" x2="501.55" y2="418.50" stroke="#222" stroke-width="1.2" />
<polyline points="475.4,366.6 475.4,361.8 497.7,361.8 497.7,412.8" fill="none" stroke="#333" stroke-width="1.0"/>
<circle cx="486.55" cy="358.10" r="1.2" fill="#222" stroke="none" stroke-width="0"/>
<text x="480.04" y="347.60" font-size="10.00" text-anchor="start" fill="#222" textLength="13.24" lengthAdjust="spacingAndGlyphs"  stroke="#222" stroke-width="0.12">IL3</text>
<line x1="475.40" y1="469.90" x2="475.40" y2="472.90" stroke="#222" stroke-width="1.0" />
<text x="469.55" y="482.82" font-size="8.31" text-anchor="start" fill="#222" textLength="11.87" lengthAdjust="spacingAndGlyphs"  stroke="#222" stroke-width="0.12">On</text>
<line x1="497.60" y1="469.90" x2="497.60" y2="472.90" stroke="#222" stroke-width="1.0" />
<text x="491.71" y="482.82" font-size="8.03" text-anchor="start" fill="#222" textLength="11.35" lengthAdjust="spacingAndGlyphs"  stroke="#222" stroke-width="0.12">Off</text>
<text x="394.22" y="496.20" font-size="10.00" text-anchor="start" fill="#333" textLength="34.03" lengthAdjust="spacingAndGlyphs"  stroke="#333" stroke-width="0.12">MLL-AF10</text>
<text x="15.40" y="460.03" font-size="9.79" text-anchor="start" fill="#333" textLength="87.94" lengthAdjust="spacingAndGlyphs" transform="rotate(-90 15.40 460.03)"  stroke="#333" stroke-width="0.12">Normalized spot intensity</text>
<text x="280.00" y="455.92" font-size="9.79" text-anchor="start" fill="#333" textLength="87.14" lengthAdjust="spacingAndGlyphs" transform="rotate(-90 280.00 455.92)"  stroke="#333" stroke-width="0.12">Normalized spot intensity</text>
</svg>
</body></html>
